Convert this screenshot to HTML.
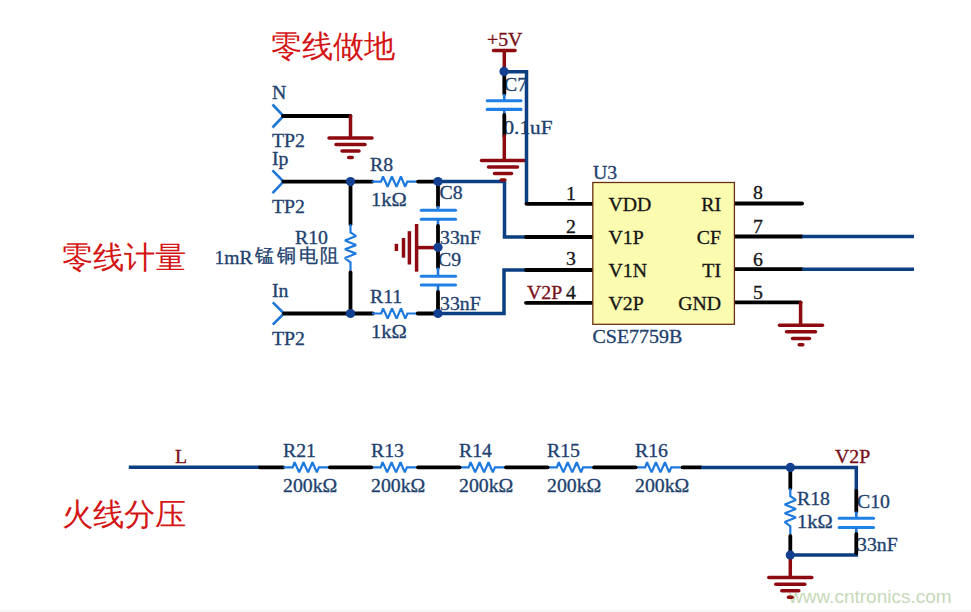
<!DOCTYPE html>
<html><head><meta charset="utf-8">
<style>
html,body{margin:0;padding:0;background:#fff;}
svg{display:block;}
.t{font-family:"Liberation Serif",serif;font-size:18px;fill:#21416e;stroke:#21416e;stroke-width:0.3;}
.k{font-family:"Liberation Serif",serif;font-size:18px;fill:#151515;stroke:#151515;stroke-width:0.3;}
.r{font-family:"Liberation Serif",serif;font-size:18px;fill:#7a1018;stroke:#7a1018;stroke-width:0.3;}
.cn{font-family:"Liberation Sans",sans-serif;font-size:31px;fill:#d41515;}
.bw{stroke:#000;stroke-width:3.8;fill:none;stroke-linecap:round;}
.bl{stroke:#0b3f82;stroke-width:3.5;fill:none;stroke-linecap:butt;}
.lb{stroke:#1f7ae0;stroke-width:2.2;fill:none;stroke-linejoin:miter;stroke-miterlimit:1.6;}
.ld{stroke:#1f76d8;stroke-width:2.6;fill:none;}
.cp{stroke:#1f80e8;stroke-width:3.1;fill:none;stroke-linecap:round;}
.gr{stroke:#8c0a10;stroke-width:3.5;fill:none;stroke-linecap:round;}
.dot{fill:#123f90;}
</style></head>
<body>
<svg width="971" height="612" viewBox="0 0 971 612">
<defs>
 <g id="rh"><polyline class="lb" points="-22.4,0 -13.1,0 -11.2,-5.1 -6.6,5.1 -2.3,-5.1 2.3,5.1 6.7,-5.1 11,5.1 13.1,0 22.4,0"/></g>
 <g id="rv"><polyline class="lb" points="0,-23 0,-15 5.6,-11.2 -5.6,-6.8 5.6,-2.2 -5.6,2 5.6,6.3 -5.6,10.8 0,15 0,23"/></g>
 <g id="gnd">
  <line class="gr" x1="-21.5" y1="0.4" x2="21.5" y2="0.4"/>
  <line class="gr" x1="-14.5" y1="7" x2="14.5" y2="7"/>
  <line class="gr" x1="-8.5" y1="13.6" x2="8.5" y2="13.6"/>
  <line class="gr" x1="-1.8" y1="20" x2="1.8" y2="20"/>
 </g>
</defs>
<rect x="0" y="610" width="971" height="2" fill="#f4f4f4"/>
<text class="cn" transform="matrix(1.01 0 0 1 271 57)">零线做地</text>
<text class="cn" transform="matrix(1.01 0 0 1 62 268)">零线计量</text>
<text class="cn" transform="matrix(1.01 0 0 1 62 525)">火线分压</text>
<text class="t" transform="matrix(1.1 0 0 1 272 98.7)">N</text>
<text class="t" transform="matrix(1.1 0 0 1 272 146.7)">TP2</text>
<text class="t" transform="matrix(1.1 0 0 1 272 164.5)">Ip</text>
<text class="t" transform="matrix(1.1 0 0 1 272 213.2)">TP2</text>
<text class="t" transform="matrix(1.1 0 0 1 272 297.2)">In</text>
<text class="t" transform="matrix(1.1 0 0 1 272 345.0)">TP2</text>
<text class="t" transform="matrix(1.1 0 0 1 370 171.3)">R8</text>
<text class="t" transform="matrix(1.14 0 0 1 371 206.2)">1kΩ</text>
<text class="t" transform="matrix(1.1 0 0 1 370 302.5)">R11</text>
<text class="t" transform="matrix(1.14 0 0 1 371 337.5)">1kΩ</text>
<text class="t" transform="matrix(1.1 0 0 1 295 244.1)">R10</text>
<text class="t" transform="matrix(1.1 0 0 1 439.5 199.3)">C8</text>
<text class="t" transform="matrix(1.1 0 0 1 440 243.9)">33nF</text>
<text class="t" transform="matrix(1.1 0 0 1 438 265.7)">C9</text>
<text class="t" transform="matrix(1.1 0 0 1 440 309.7)">33nF</text>
<text class="t" transform="matrix(1.1 0 0 1 504 90.7)">C7</text>
<text class="t" transform="matrix(1.18 0 0 1 503.5 134.4)">0.1uF</text>
<text class="t" transform="matrix(1.1 0 0 1 593 178.7)">U3</text>
<text class="t" transform="matrix(1.11 0 0 1 592.5 343.2)">CSE7759B</text>
<text class="t" transform="matrix(1.1 0 0 1 797 505.2)">R18</text>
<text class="t" transform="matrix(1.14 0 0 1 797 527.7)">1kΩ</text>
<text class="t" transform="matrix(1.1 0 0 1 857 507.9)">C10</text>
<text class="t" transform="matrix(1.1 0 0 1 857 551.0)">33nF</text>
<text class="t" transform="matrix(1.09 0 0 1 214.5 263.7)">1mR</text>
<text class="t" transform="matrix(1 0 0 1 254.5 262.2)" style="font-size:19px">锰</text>
<text class="t" transform="matrix(1 0 0 1 276.8 262.2)" style="font-size:19px">铜</text>
<text class="t" transform="matrix(1 0 0 1 299 262.2)" style="font-size:19px">电</text>
<text class="t" transform="matrix(1 0 0 1 319.5 262.2)" style="font-size:19px">阻</text>
<text class="t" transform="matrix(1.1 0 0 1 283 457.1)">R21</text>
<text class="t" transform="matrix(1.1 0 0 1 283 491.7)">200kΩ</text>
<text class="t" transform="matrix(1.1 0 0 1 371 457.1)">R13</text>
<text class="t" transform="matrix(1.1 0 0 1 371 491.7)">200kΩ</text>
<text class="t" transform="matrix(1.1 0 0 1 459 457.1)">R14</text>
<text class="t" transform="matrix(1.1 0 0 1 459 491.7)">200kΩ</text>
<text class="t" transform="matrix(1.1 0 0 1 547 457.1)">R15</text>
<text class="t" transform="matrix(1.1 0 0 1 547 491.7)">200kΩ</text>
<text class="t" transform="matrix(1.1 0 0 1 635 457.1)">R16</text>
<text class="t" transform="matrix(1.1 0 0 1 635 491.7)">200kΩ</text>
<text class="r" transform="matrix(1.1 0 0 1 487 46)">+5V</text>
<text class="r" transform="matrix(1.1 0 0 1 527 298.6)">V2P</text>
<text class="r" transform="matrix(1.1 0 0 1 175 462.8)">L</text>
<text class="r" transform="matrix(1.1 0 0 1 835 463.3)">V2P</text>
<text x="789" y="602.5" style="font-family:'Liberation Sans',sans-serif;font-size:19px;fill:#c6d9b8">www.cntronics.com</text>
<polyline class="ld" points="272.5,104.5 283.5,116 272.5,127.5"/>
<line class="bw" x1="283" y1="116" x2="350.5" y2="116"/>
<line class="gr" x1="350.5" y1="116" x2="350.5" y2="137.5"/>
<use href="#gnd" x="350.5" y="137.5"/>
<polyline class="ld" points="272.5,170.3 283.5,181.6 272.5,193.1"/>
<line class="bw" x1="283.5" y1="181.6" x2="372.4" y2="181.6"/>
<use href="#rh" x="394.2" y="181.6"/>
<line class="bw" x1="418" y1="181.6" x2="438" y2="181.6"/>
<polyline class="bl" points="438,181.6 504.5,181.6 504.5,237 526,237"/>
<line class="bw" x1="526" y1="237" x2="592.7" y2="237"/>
<line class="bw" x1="350.5" y1="181.6" x2="350.5" y2="224.3"/>
<use href="#rv" x="350.5" y="247.3"/>
<line class="bw" x1="350.5" y1="272.2" x2="350.5" y2="313.5"/>
<polyline class="ld" points="272.8,302.3 284,313.5 272.8,324.7"/>
<line class="bw" x1="284" y1="313.5" x2="372.8" y2="313.5"/>
<use href="#rh" x="394.3" y="313.5"/>
<line class="bw" x1="417.7" y1="313.5" x2="438" y2="313.5"/>
<polyline class="bl" points="438,313.5 504,313.5 504,270 526,270"/>
<line class="bw" x1="526" y1="270" x2="592.7" y2="270"/>
<line class="bw" x1="438" y1="181.6" x2="438" y2="206"/>
<line class="ld" x1="438" y1="206" x2="438" y2="210.2"/>
<line class="cp" x1="421.3" y1="210.2" x2="455.5" y2="210.2"/>
<line class="cp" x1="421.3" y1="219.3" x2="455.5" y2="219.3"/>
<line class="ld" x1="438" y1="219.3" x2="438" y2="226"/>
<line class="bw" x1="438" y1="226" x2="438" y2="267.6"/>
<line class="ld" x1="438" y1="267.6" x2="438" y2="276.3"/>
<line class="cp" x1="421.3" y1="276.3" x2="455.5" y2="276.3"/>
<line class="cp" x1="421.3" y1="285" x2="455.5" y2="285"/>
<line class="ld" x1="438" y1="285" x2="438" y2="292"/>
<line class="bw" x1="438" y1="292" x2="438" y2="313.5"/>
<line class="gr" x1="416.6" y1="247.6" x2="438" y2="247.6" style="stroke-linecap:butt"/>
<line class="gr" x1="416.6" y1="224" x2="416.6" y2="271.7" style="stroke-linecap:butt"/>
<line class="gr" x1="409.4" y1="231.2" x2="409.4" y2="264.5" style="stroke-linecap:butt"/>
<line class="gr" x1="403.5" y1="238" x2="403.5" y2="257.7" style="stroke-linecap:butt"/>
<line class="gr" x1="396.4" y1="243.8" x2="396.4" y2="251" style="stroke-linecap:butt"/>
<line class="gr" x1="493.5" y1="50.6" x2="515" y2="50.6"/>
<line class="gr" x1="504.3" y1="50.6" x2="504.3" y2="71"/>
<line class="bw" x1="504.3" y1="71" x2="504.3" y2="94"/>
<line class="ld" x1="504.3" y1="94" x2="504.3" y2="100.7"/>
<line class="cp" x1="487.2" y1="100.7" x2="521" y2="100.7"/>
<line class="cp" x1="487.2" y1="109.4" x2="521" y2="109.4"/>
<line class="ld" x1="504.3" y1="109.4" x2="504.3" y2="115"/>
<line class="bw" x1="504.3" y1="115" x2="504.3" y2="136"/>
<line class="gr" x1="504.3" y1="136" x2="504.3" y2="160"/>
<use href="#gnd" x="503" y="160"/>
<polyline class="bl" points="504.3,71.8 526.5,71.8 526.5,203.8"/>
<line class="bw" x1="526.5" y1="203.8" x2="592.7" y2="203.8"/>
<line class="bw" x1="526" y1="302.8" x2="592.7" y2="302.8"/>
<line class="bw" x1="734.4" y1="203.5" x2="802" y2="203.5"/>
<line class="bw" x1="734.4" y1="236.5" x2="802" y2="236.5"/>
<line class="bl" x1="802" y1="236.5" x2="914" y2="236.5"/>
<line class="bw" x1="734.4" y1="269.2" x2="802" y2="269.2"/>
<line class="bl" x1="802" y1="269.2" x2="914" y2="269.2"/>
<line class="bw" x1="734.4" y1="302.4" x2="800.6" y2="302.4"/>
<line class="gr" x1="800.6" y1="302.4" x2="800.6" y2="324.8"/>
<use href="#gnd" x="801" y="324.8"/>
<line class="bl" x1="128.8" y1="467.3" x2="260" y2="467.3"/>
<line class="bw" x1="260" y1="467.3" x2="283.4" y2="467.3"/>
<use href="#rh" x="305.8" y="467.3"/>
<use href="#rh" x="393.8" y="467.3"/>
<use href="#rh" x="481.8" y="467.3"/>
<use href="#rh" x="570" y="467.3"/>
<use href="#rh" x="658.2" y="467.3"/>
<line class="bw" x1="329.8" y1="467.3" x2="371.3" y2="467.3"/>
<line class="bw" x1="417.9" y1="467.3" x2="459.5" y2="467.3"/>
<line class="bw" x1="505.9" y1="467.3" x2="547.6" y2="467.3"/>
<line class="bw" x1="594" y1="467.3" x2="635.6" y2="467.3"/>
<line class="bw" x1="682.5" y1="467.3" x2="701" y2="467.3"/>
<polyline class="bl" points="701,467.4 856.3,467.4 856.3,491"/>
<line class="bw" x1="790.3" y1="467.4" x2="790.3" y2="488.4"/>
<use href="#rv" x="790.3" y="511.2"/>
<line class="bw" x1="790.3" y1="536" x2="790.3" y2="555"/>
<polyline class="bl" points="790.3,555 856.3,555 856.3,552"/>
<line class="bw" x1="856.3" y1="491" x2="856.3" y2="511.6"/>
<line class="ld" x1="856.3" y1="511.6" x2="856.3" y2="518.3"/>
<line class="cp" x1="839.2" y1="518.3" x2="873.5" y2="518.3"/>
<line class="cp" x1="839.2" y1="527.5" x2="873.5" y2="527.5"/>
<line class="ld" x1="856.3" y1="527.5" x2="856.3" y2="534"/>
<line class="bw" x1="856.3" y1="534" x2="856.3" y2="553"/>
<line class="gr" x1="790.3" y1="555" x2="790.3" y2="577.2"/>
<use href="#gnd" x="790.3" y="577.2"/>
<circle class="dot" cx="350.5" cy="181.6" r="4.6"/>
<circle class="dot" cx="438" cy="181.6" r="4.6"/>
<circle class="dot" cx="438" cy="247.3" r="4.6"/>
<circle class="dot" cx="350.5" cy="313.5" r="4.6"/>
<circle class="dot" cx="438" cy="313.5" r="4.6"/>
<circle class="dot" cx="504" cy="71.4" r="4.6"/>
<circle class="dot" cx="790.3" cy="467.4" r="4.6"/>
<circle class="dot" cx="790.3" cy="555" r="4.6"/>
<rect x="592.8" y="182.5" width="141.6" height="141.8" fill="#fcfcb0" stroke="#6a3016" stroke-width="1.3"/>
<text class="k" transform="matrix(1.1 0 0 1 608.5 211)">VDD</text>
<text class="k" transform="matrix(1.1 0 0 1 721 211)" text-anchor="end">RI</text>
<text class="k" transform="matrix(1.1 0 0 1 608.5 243.5)">V1P</text>
<text class="k" transform="matrix(1.1 0 0 1 721 243.5)" text-anchor="end">CF</text>
<text class="k" transform="matrix(1.1 0 0 1 608.5 276.5)">V1N</text>
<text class="k" transform="matrix(1.1 0 0 1 721 276.5)" text-anchor="end">TI</text>
<text class="k" transform="matrix(1.1 0 0 1 608.5 309.5)">V2P</text>
<text class="k" transform="matrix(1.1 0 0 1 721 309.5)" text-anchor="end">GND</text>
<text class="k" transform="matrix(1.1 0 0 1 566 199.6)">1</text>
<text class="k" transform="matrix(1.1 0 0 1 566 232.7)">2</text>
<text class="k" transform="matrix(1.1 0 0 1 566 265.4)">3</text>
<text class="k" transform="matrix(1.1 0 0 1 566 298.6)">4</text>
<text class="k" transform="matrix(1.1 0 0 1 753 199.4)">8</text>
<text class="k" transform="matrix(1.1 0 0 1 753 232.5)">7</text>
<text class="k" transform="matrix(1.1 0 0 1 753 265.5)">6</text>
<text class="k" transform="matrix(1.1 0 0 1 753 298.5)">5</text>
</svg>
</body></html>
